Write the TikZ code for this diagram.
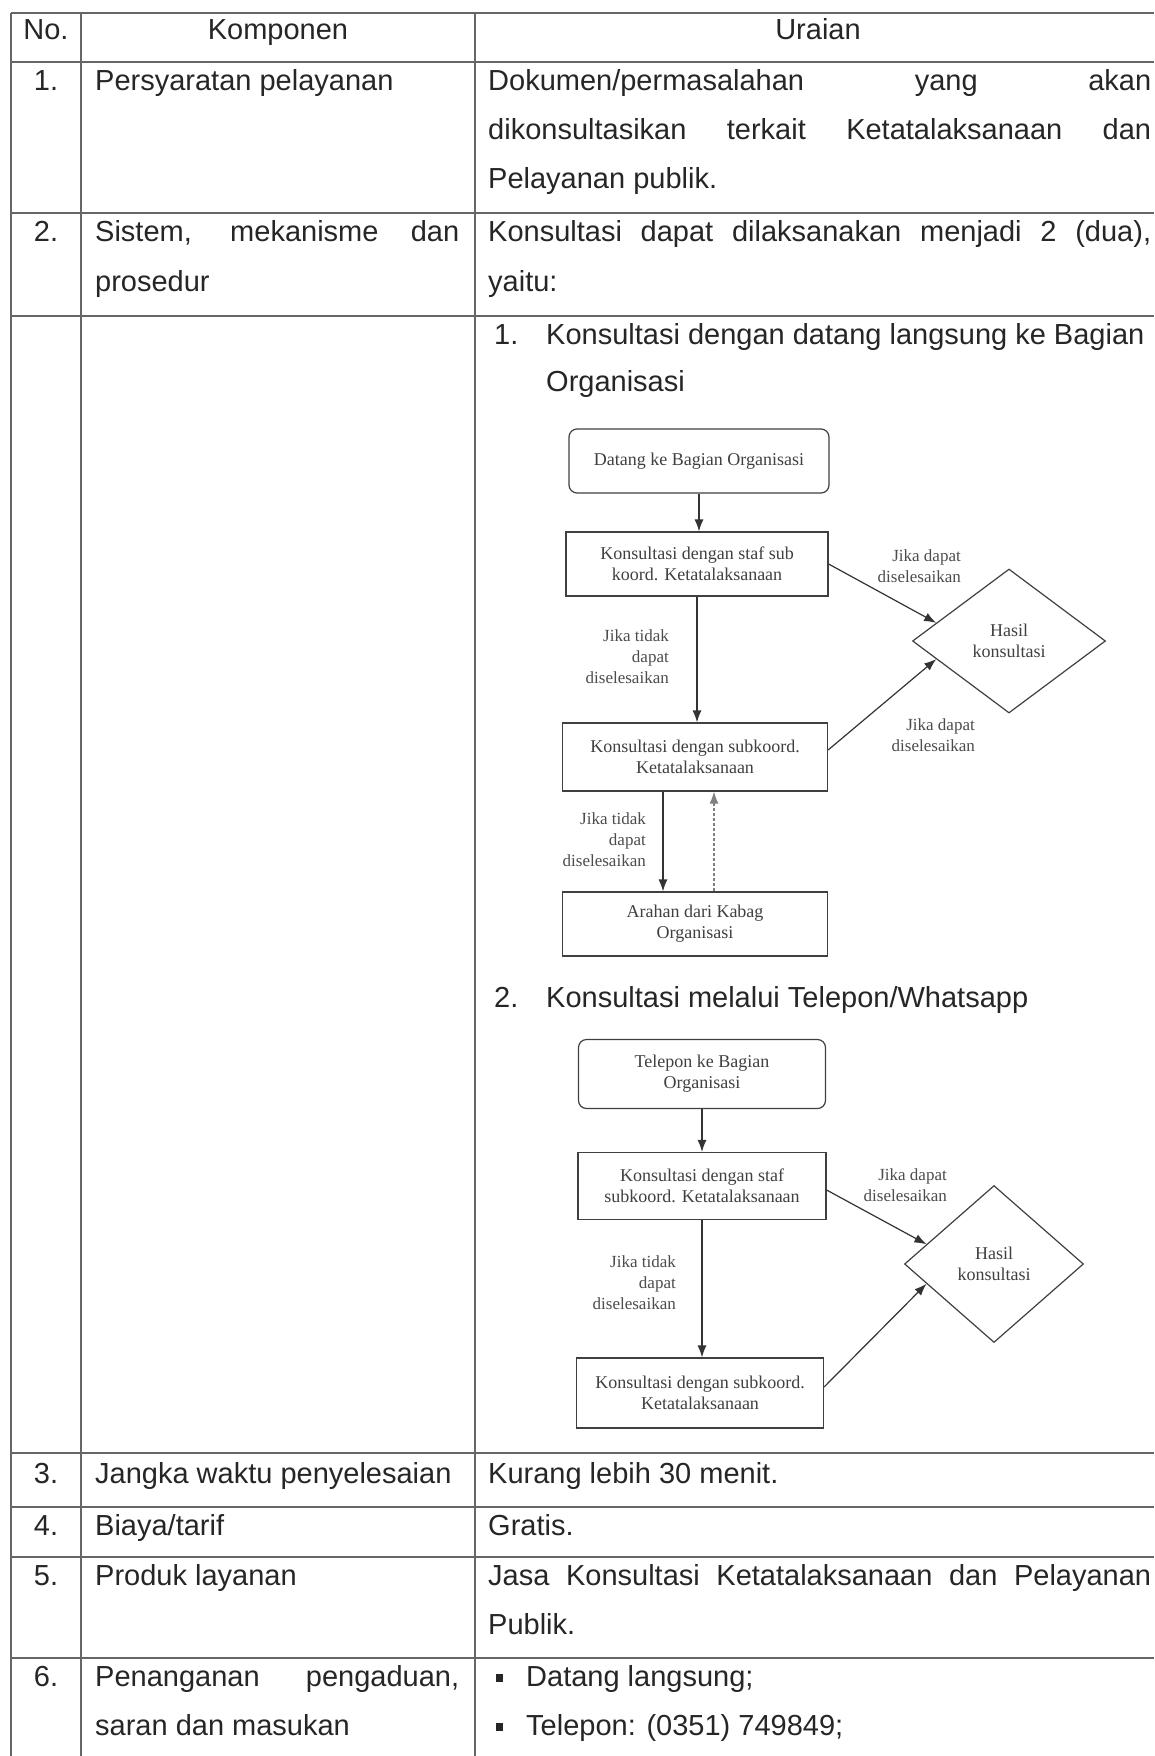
\documentclass[tikz,border=0pt]{standalone}
\usepackage{fontspec}
\setmainfont{Liberation Sans}
\newfontfamily\flowfont{Liberation Serif}
\usetikzlibrary{arrows.meta,shapes.geometric,calc}

\newcommand{\cellfont}{\fontsize{29}{49}\selectfont}
\newcommand{\boxfont}{\flowfont\fontsize{18}{21}\selectfont}
\newcommand{\notefont}{\flowfont\fontsize{17}{21}\selectfont}

\begin{document}
\begin{tikzpicture}[x=1pt,y=-1pt,>={Latex[length=12pt,width=9pt]},
		cell/.style={anchor=base west,inner sep=0pt,font=\cellfont,text=black!85},
		num/.style={anchor=base,inner sep=0pt,font=\cellfont,text=black!85},
		grid line/.style={line width=2pt,draw=black!60},
		main node/.style={rectangle,draw=black!75,line width=1.2pt,inner sep=2pt,align=center,font=\boxfont,text=black!75},
		round node/.style={main node,rounded corners=8pt},
		hasil node/.style={diamond,draw=black!75,line width=1.2pt,inner sep=0pt,align=center,font=\boxfont,text=black!75},
		note node/.style={inner sep=0pt,anchor=east,align=right,font=\notefont,text=black!70},
		flow/.style={->,draw=black!80,line width=1.2pt}]
		
		\path[use as bounding box,fill=white] (0,0) rectangle (1154,1756);
		
		% table
		\foreach \y in {13,62,213,316,1453,1507,1557,1658}
		\draw[grid line] (11,\y) -- (1154,\y);
		\foreach \x in {11,81,475}
		\draw[grid line] (\x,13) -- (\x,1756);
		
		\node[num] (no0) at (46,39) {No.};
		\node[num] (komp0) at (278,39) {Komponen};
		\node[num] (urai0) at (818,39) {Uraian};
		
		\node[num] (no1) at (46,90) {1.};
		\node[cell] (komp1) at (95,90) {Persyaratan pelayanan};
		\node[cell] (urai1a) at (488,90) {\makebox[663pt][s]{Dokumen/permasalahan yang akan}};
		\node[cell] (urai1b) at (488,139) {\makebox[663pt][s]{dikonsultasikan terkait Ketatalaksanaan dan}};
		\node[cell] (urai1c) at (488,188) {Pelayanan publik.};
		
		\node[num] (no2) at (46,241) {2.};
		\node[cell] (komp2a) at (95,241) {\makebox[364pt][s]{Sistem, mekanisme dan}};
		\node[cell] (komp2b) at (95,291) {prosedur};
		\node[cell] (urai2a) at (488,241) {\makebox[663pt][s]{Konsultasi dapat dilaksanakan menjadi 2 (dua),}};
		\node[cell] (urai2b) at (488,291) {yaitu:};
		
		\node[cell] (cara1no) at (494,344) {1.};
		\node[cell] (cara1a) at (546,344) {Konsultasi dengan datang langsung ke Bagian};
		\node[cell] (cara1b) at (546,391) {Organisasi};
		\node[cell] (cara2no) at (494,1007) {2.};
		\node[cell] (cara2) at (546,1007) {Konsultasi melalui Telepon/Whatsapp};
		
		\node[num] (no3) at (46,1483) {3.};
		\node[cell] (komp3) at (95,1483) {Jangka waktu penyelesaian};
		\node[cell] (urai3) at (488,1483) {Kurang lebih 30 menit.};
		
		\node[num] (no4) at (46,1535) {4.};
		\node[cell] (komp4) at (95,1535) {Biaya/tarif};
		\node[cell] (urai4) at (488,1535) {Gratis.};
		
		\node[num] (no5) at (46,1585) {5.};
		\node[cell] (komp5) at (95,1585) {Produk layanan};
		\node[cell] (urai5a) at (488,1585) {\makebox[663pt][s]{Jasa Konsultasi Ketatalaksanaan dan Pelayanan}};
		\node[cell] (urai5b) at (488,1634) {Publik.};
		
		\node[num] (no6) at (46,1686) {6.};
		\node[cell] (komp6a) at (95,1686) {\makebox[364pt][s]{Penanganan pengaduan,}};
		\node[cell] (komp6b) at (95,1735) {saran dan masukan};
		\node[cell] (dot1) at (496,1686) {\rule[4pt]{7pt}{8pt}};
		\node[cell] (urai6a) at (526,1686) {Datang langsung;};
		\node[cell] (dot2) at (496,1735) {\rule[4pt]{7pt}{8pt}};
		\node[cell] (urai6b) at (526,1735) {Telepon: (0351) 749849;};
		
		% alur 1
		\node[round node,minimum width=260,minimum height=64] (datang) at (699,461) {Datang ke Bagian Organisasi};
		\node[main node,minimum width=262,minimum height=64] (staf1) at (697,564) {Konsultasi dengan staf sub\\koord. Ketatalaksanaan};
		\node[hasil node,minimum width=193,minimum height=144] (hasil1) at (1009,641) {Hasil\\konsultasi};
		\node[main node,minimum width=265,minimum height=68] (sub1) at (695,757) {Konsultasi dengan subkoord.\\Ketatalaksanaan};
		\node[main node,minimum width=265,minimum height=64] (kabag) at (695,924) {Arahan dari Kabag\\Organisasi};
		
		\node[note node] (ya1) at (961,566) {Jika dapat\\diselesaikan};
		\node[note node] (tidak1) at (669,657) {Jika tidak\\dapat\\diselesaikan};
		\node[note node] (ya1b) at (975,735) {Jika dapat\\diselesaikan};
		\node[note node] (tidak1b) at (646,840) {Jika tidak\\dapat\\diselesaikan};
		
		\coordinate (hasil1 atas) at ($(hasil1.west)!0.25!(hasil1.north)$);
		\coordinate (hasil1 bawah) at ($(hasil1.west)!0.25!(hasil1.south)$);
		\coordinate (turun1) at ([xshift=-32pt]sub1.south);
		\coordinate (naik1) at ([xshift=19pt]kabag.north);
		
		\path (datang.south) edge[flow] (datang.south |- staf1.north)
		(staf1.east) edge[flow] (hasil1 atas)
		(staf1.south) edge[flow] (staf1.south |- sub1.north)
		([yshift=7pt]sub1.east) edge[flow] (hasil1 bawah)
		(turun1) edge[flow] (turun1 |- kabag.north)
		(naik1) edge[flow,draw=black!50,densely dashed] (naik1 |- sub1.south);
		
		% alur 2
		\node[round node,minimum width=247,minimum height=69] (telepon) at (702,1074) {Telepon ke Bagian\\Organisasi};
		\node[main node,minimum width=248,minimum height=67] (staf2) at (702,1186) {Konsultasi dengan staf\\subkoord. Ketatalaksanaan};
		\node[hasil node,minimum width=179,minimum height=157] (hasil2) at (994,1264) {Hasil\\konsultasi};
		\node[main node,minimum width=247,minimum height=70] (sub2) at (700,1393) {Konsultasi dengan subkoord.\\Ketatalaksanaan};
		
		\node[note node] (ya2) at (947,1185) {Jika dapat\\diselesaikan};
		\node[note node] (tidak2) at (676,1283) {Jika tidak\\dapat\\diselesaikan};
		
		\coordinate (hasil2 atas) at ($(hasil2.west)!0.25!(hasil2.north)$);
		\coordinate (hasil2 bawah) at ($(hasil2.west)!0.25!(hasil2.south)$);
		
		\path (telepon.south) edge[flow] (telepon.south |- staf2.north)
		([yshift=-4pt]staf2.east) edge[flow] (hasil2 atas)
		(staf2.south) edge[flow] (staf2.south |- sub2.north)
		([yshift=6pt]sub2.east) edge[flow] (hasil2 bawah);
\end{tikzpicture}
\end{document}
